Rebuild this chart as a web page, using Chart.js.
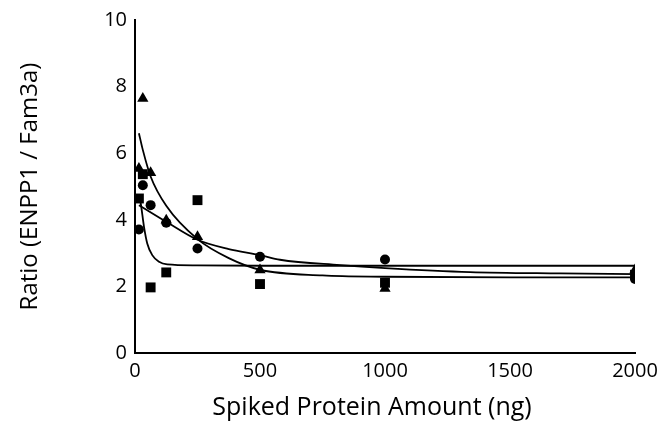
<!DOCTYPE html>
<html>
<head>
<meta charset="utf-8">
<script src="https://cdn.jsdelivr.net/npm/chart.js@4"></script>
<style>
  html, body { margin: 0; padding: 0; background: #fff; }
  #wrap { width: 663px; height: 445px; }
</style>
</head>
<body>
<div id="wrap"><canvas id="chart" width="663" height="445"></canvas></div>
<script>
// spiked amounts (ng)
const amounts = [15.6, 31.25, 62.5, 125, 250, 500, 1000, 2000];

// measured ratios per replicate
const circleVals   = [3.71, 5.04, 4.44, 3.91, 3.14, 2.89, 2.81, 2.22];
const squareVals   = [4.64, 5.37, 1.97, 2.42, 4.59, 2.07, 2.11, 2.35];
const triangleVals = [5.54, 7.64, 5.41, 3.99, 3.49, 2.49, 1.94, 2.49];

// fitted curves
const fitTriX = [15.6, 31.25, 62.5, 125, 250, 375, 500, 750, 1000, 1500, 2000];
const fitTriY = [6.6, 6.1, 5.3, 4.42, 3.42, 2.85, 2.5, 2.33, 2.29, 2.27, 2.27];
const fitCirX = [15.6, 125, 250, 375, 500, 580, 820, 1000, 1340, 1700, 2000];
const fitCirY = [4.44, 3.94, 3.4, 3.12, 2.94, 2.8, 2.64, 2.55, 2.43, 2.39, 2.37];
const fitSqX  = [15.6, 23, 36, 49, 69, 96, 129, 250, 500, 1000, 2000];
const fitSqY  = [4.75, 4.49, 3.79, 3.29, 2.94, 2.74, 2.66, 2.63, 2.62, 2.62, 2.62];

const xTicks = [0, 500, 1000, 1500, 2000];
const yTicks = [0, 2, 4, 6, 8, 10];

const pts = (xs, ys) => xs.map((x, i) => ({ x: x, y: ys[i] }));

function marker(data, style, r) {
  return {
    type: 'scatter', data: data, pointStyle: style, pointRadius: r,
    backgroundColor: '#000', borderColor: '#000', borderWidth: 0, order: 1
  };
}
function fit(data) {
  return {
    type: 'line', data: data, showLine: true, pointRadius: 0,
    borderColor: '#000', borderWidth: 1.8, fill: false,
    cubicInterpolationMode: 'monotone', order: 2
  };
}

const font = "'Open Sans', 'Liberation Sans', sans-serif";

new Chart(document.getElementById('chart'), {
  type: 'scatter',
  data: {
    datasets: [
      fit(pts(fitTriX, fitTriY)),
      fit(pts(fitCirX, fitCirY)),
      fit(pts(fitSqX, fitSqY)),
      marker(pts(amounts, circleVals), 'circle', 5),
      marker(pts(amounts, squareVals), 'rect', 7),
      marker(pts(amounts, triangleVals), 'triangle', 6.5)
    ]
  },
  options: {
    responsive: false,
    animation: false,
    layout: { padding: { left: 0, top: 20, right: 28, bottom: 0 } },
    plugins: { legend: { display: false }, tooltip: { enabled: false } },
    scales: {
      x: {
        type: 'linear', min: 0, max: 2000,
        afterBuildTicks: s => { s.ticks = xTicks.map(v => ({ value: v })); },
        afterFit: s => { s.height = 92; },
        grid: { display: false, drawOnChartArea: false, drawTicks: true, tickLength: 6, tickColor: '#000', tickWidth: 2 },
        border: { display: true, color: '#000', width: 2 },
        ticks: { color: '#000', font: { family: font, size: 20 }, padding: 0, maxRotation: 0,
                 callback: v => String(v) },
        title: { display: true, text: 'Spiked Protein Amount (ng)\u00a0\u00a0\u00a0\u00a0', color: '#000',
                 font: { family: font, size: 25 }, padding: { top: 18, bottom: 22 } }
      },
      y: {
        type: 'linear', min: 0, max: 10,
        afterBuildTicks: s => { s.ticks = yTicks.map(v => ({ value: v })); },
        afterFit: s => { s.width = 135; },
        grid: { display: false, drawOnChartArea: false, drawTicks: true, tickLength: 6, tickColor: '#000', tickWidth: 2 },
        border: { display: true, color: '#000', width: 2 },
        ticks: { color: '#000', font: { family: font, size: 20 }, padding: 2 },
        title: { display: true, text: 'Ratio (ENPP1 / Fam3a)', color: '#000',
                 font: { family: font, size: 24 }, padding: { top: 16, bottom: 0 } }
      }
    }
  }
});
</script>
</body>
</html>
